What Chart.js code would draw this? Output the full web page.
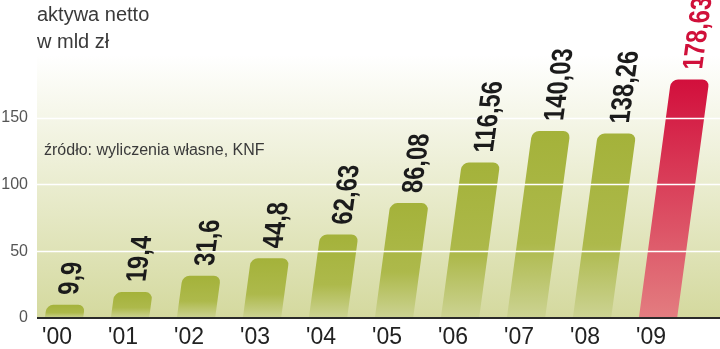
<!DOCTYPE html>
<html>
<head>
<meta charset="utf-8">
<script src="https://cdn.jsdelivr.net/npm/chart.js@4.4.1/dist/chart.umd.min.js"></script>
<style>
  html, body { margin: 0; padding: 0; background: #fff; }
  #wrap { width: 720px; height: 349px; position: relative; }
</style>
</head>
<body>
<div id="wrap"><canvas id="assetsChart"></canvas></div>
<script>
// aktywa netto, mld zł
const years = ["'00", "'01", "'02", "'03", "'04", "'05", "'06", "'07", "'08", "'09"];
const netAssets = [9.9, 19.4, 31.6, 44.8, 62.63, 86.08, 116.56, 140.03, 138.26, 178.63];
const yTicks = [0, 50, 100, 150];
const titleLines = ['aktywa netto', 'w mld zł'];
const sourceNote = 'źródło: wyliczenia własne, KNF';

const SKEW = 0.135;
const FONT = '"Liberation Sans", Arial, sans-serif';

function barGradient(ctx, last) {
    const chart = ctx.chart;
    const area = chart.chartArea;
    const top = chart.scales.y ? chart.scales.y.getPixelForValue(netAssets[ctx.dataIndex]) : NaN;
    if (!area || !isFinite(top) || !isFinite(area.bottom)) return last ? '#d20f3c' : '#a6b33c';
    const g = chart.ctx.createLinearGradient(0, top, 0, area.bottom);
    if (last) {
        g.addColorStop(0, '#d20f3c');
        g.addColorStop(1, '#e37d80');
    } else {
        g.addColorStop(0, '#a4b23a');
        g.addColorStop(0.6, '#adb94b');
        g.addColorStop(1, '#ccd393');
    }
    return g;
}

function shear(chart) {
    const base = chart.scales.y.getPixelForValue(0);
    chart.ctx.transform(1, 0, -SKEW, 1, SKEW * base, 0);
}

// shear the bars and their labels, like the printed graphic
const skewPlugin = {
    id: 'skew',
    beforeDraw(chart) {
        const {ctx, chartArea} = chart;
        const g = ctx.createLinearGradient(0, chartArea.top, 0, chartArea.bottom);
        g.addColorStop(0, '#ffffff');
        g.addColorStop(1, '#d4d99e');
        ctx.save();
        ctx.fillStyle = g;
        ctx.fillRect(37, chartArea.top, chart.width - 37, chartArea.bottom - chartArea.top);

        ctx.fillStyle = '#3a3a3a';
        ctx.font = '20px ' + FONT;
        ctx.textBaseline = 'alphabetic';
        ctx.fillText(titleLines[0], 37, 21);
        ctx.fillText(titleLines[1], 37, 48);
        ctx.font = '16px ' + FONT;
        ctx.fillText(sourceNote, 44, 155);
        ctx.restore();
    },
    beforeDatasetsDraw(chart) {
        chart.ctx.save();
        shear(chart);
    },
    afterDatasetsDraw(chart) {
        const {ctx} = chart;
        ctx.restore();
        const y = chart.scales.y;
        const base = y.getPixelForValue(0);

        // white grid lines over the bars, dark base line
        ctx.save();
        ctx.strokeStyle = '#ffffff';
        ctx.lineWidth = 1.5;
        yTicks.slice(1).forEach(v => {
            const py = Math.round(y.getPixelForValue(v)) + 0.5;
            ctx.beginPath();
            ctx.moveTo(37, py);
            ctx.lineTo(chart.width, py);
            ctx.stroke();
        });
        ctx.strokeStyle = '#2a2a2a';
        ctx.lineWidth = 2;
        ctx.beginPath();
        ctx.moveTo(37, base);
        ctx.lineTo(chart.width, base);
        ctx.stroke();
        ctx.restore();

        // value labels, condensed bold, turned upright and sheared
        const size = 29;
        ctx.save();
        shear(chart);
        ctx.font = 'bold ' + size + 'px ' + FONT;
        ctx.textAlign = 'left';
        ctx.textBaseline = 'alphabetic';
        chart.getDatasetMeta(0).data.forEach((bar, i) => {
            ctx.save();
            ctx.fillStyle = i === netAssets.length - 1 ? '#d0103a' : '#1b1b1b';
            ctx.translate(bar.x, bar.y - 10);
            ctx.rotate(-Math.PI / 2);
            ctx.scale(0.82, 1);
            ctx.fillText(String(netAssets[i]).replace('.', ','), 0, size * 0.36);
            ctx.restore();
        });
        ctx.restore();
    }
};

new Chart('assetsChart', {
    type: 'bar',
    data: {
        labels: years,
        datasets: [{
            data: netAssets,
            backgroundColor: ctx => barGradient(ctx, ctx.dataIndex === netAssets.length - 1),
            borderRadius: 7,
            borderSkipped: 'start',
            categoryPercentage: 1,
            barPercentage: 0.58,
            clip: false
        }]
    },
    options: {
        responsive: true,
        maintainAspectRatio: false,
        animation: false,
        layout: {padding: {top: 55, right: 29, left: 0, bottom: 0}},
        plugins: {legend: {display: false}, tooltip: {enabled: false}},
        scales: {
            x: {
                grid: {display: false, drawTicks: false},
                border: {display: false},
                afterFit: s => { s.height = 31; },
                ticks: {
                    color: '#222',
                    font: {family: FONT, size: 23},
                    padding: 6,
                    labelOffset: -7,
                    maxRotation: 0
                }
            },
            y: {
                min: 0,
                max: 197,
                grid: {display: false, drawTicks: false},
                border: {display: false},
                afterFit: s => { s.width = 31; },
                afterBuildTicks: s => { s.ticks = yTicks.map(v => ({value: v})); },
                ticks: {
                    color: '#555',
                    font: {family: FONT, size: 16},
                    padding: 3
                }
            }
        }
    },
    plugins: [skewPlugin]
});
</script>
</body>
</html>
